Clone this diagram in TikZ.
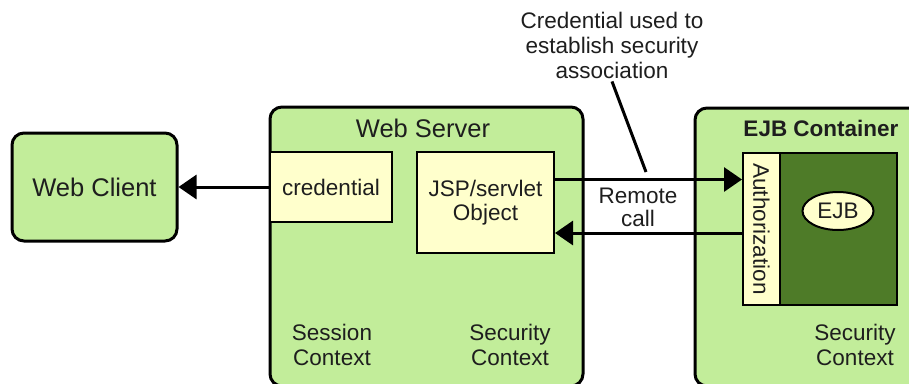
\documentclass[tikz,border=0pt]{standalone}
\usepackage{fontspec}
\setmainfont{Liberation Sans}
\usetikzlibrary{arrows.meta,shapes.geometric,calc}
\definecolor{lgreen}{HTML}{C2ED9A}
\definecolor{dgreen}{HTML}{4E7B28}
\definecolor{lyellow}{HTML}{FFFFCC}
\definecolor{txt}{HTML}{1E1E1E}
\tikzset{
  outerbox/.style={draw=black, line width=3pt, fill=lgreen, rounded corners=12pt, inner sep=0pt},
  innerbox/.style={draw=black, line width=2pt, fill=lyellow, inner sep=0pt, align=center, text=txt},
  lbl/.style={align=center, text=txt, inner sep=0pt},
  conn/.style={line width=3pt, draw=black},
  tip/.style={-{Triangle[length=18pt,width=24pt]}},
}
\begin{document}
\begin{tikzpicture}[x=1pt,y=-1pt, font=\fontsize{22.5}{25}\selectfont]
\clip (0,0) rectangle (909,383);
\fill[white] (0,0) rectangle (909,383);
% outer containers
\node[outerbox, minimum width=165pt, minimum height=108pt] (client) at (94.5,187) {};
\node[lbl, font=\fontsize{25.5}{28}\selectfont] at (client.center) {Web Client};
\node[outerbox, minimum width=313pt, minimum height=279pt] (server) at (426.5,246.5) {};
\node[outerbox, minimum width=240pt, minimum height=278pt] (ejbc) at (815,247) {};
% titles
\node[lbl, font=\fontsize{25.5}{28}\selectfont] (servertitle) at (423,128) {Web Server};
\node[lbl, font=\fontsize{22.5}{25}\bfseries] (ejbtitle) at (821,128) {EJB Container};
% inner boxes
\node[innerbox, minimum width=122pt, minimum height=70pt] (cred) at (331,187) {credential};
\node[innerbox, minimum width=137pt, minimum height=101pt, font=\fontsize{22.5}{24}\selectfont] (jsp) at (485.5,202.5) {JSP/servlet\\Object};
\node[draw=black, line width=2pt, fill=dgreen, minimum width=117pt, minimum height=152pt, inner sep=0pt] (bean) at (838.5,229) {};
\node[innerbox, minimum width=37pt, minimum height=152pt] (auth) at (761.5,229) {};
\node[lbl, rotate=-90] at (auth.center) {Authorization};
\node[ellipse, draw=black, line width=2pt, fill=lyellow, minimum width=71pt, minimum height=38pt, inner sep=0pt, text=txt] (ejb) at (838,211) {EJB};
% context labels
\node[lbl] (sess) at (332,345) {Session\\Context};
\node[lbl] (sec1) at (510,345) {Security\\Context};
\node[lbl] (sec2) at (855,345) {Security\\Context};
\node[lbl, font=\fontsize{22.5}{23}\selectfont] (remote) at (638,207) {Remote\\call};
\node[lbl] (callout) at (612,45) {Credential used to\\establish security\\association};
% connectors
\draw[conn, tip] (cred.west) -- (client.east);
\draw[conn, tip] ([yshift=23pt]jsp.east) coordinate (t1) -- (t1 -| auth.west);
\draw[conn, tip] ([yshift=-4pt]auth.west) coordinate (t2) -- (t2 -| jsp.east);
\coordinate (cend) at (646,172);
\draw[conn] ([yshift=-3pt]callout.south) -- (cend);
\end{tikzpicture}
\end{document}
